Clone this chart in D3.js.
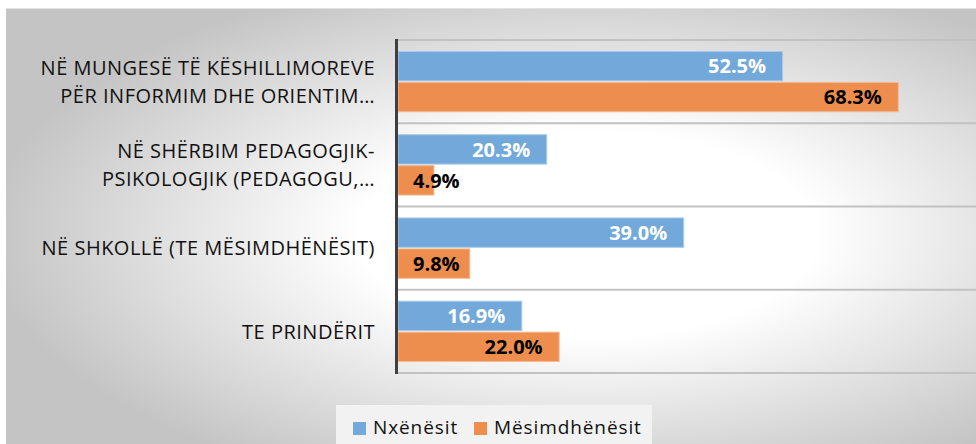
<!DOCTYPE html>
<html><head><meta charset="utf-8">
<script src="https://cdn.jsdelivr.net/npm/d3@7"></script>
<style>html,body{margin:0;padding:0;background:#fff;}svg{display:block;}</style>
</head><body>
<svg id="chart" width="976" height="444"></svg>
<script>
const categories = [
  ["NË MUNGESË TË KËSHILLIMOREVE", "PËR INFORMIM DHE ORIENTIM…"],
  ["NË SHËRBIM PEDAGOGJIK-", "PSIKOLOGJIK (PEDAGOGU,…"],
  ["NË SHKOLLË (TE MËSIMDHËNËSIT)"],
  ["TE PRINDËRIT"]
];
const series = ["Nxënësit", "Mësimdhënësit"];
const nxenesit = [52.5, 20.3, 39.0, 16.9];
const mesimdhenesit = [68.3, 4.9, 9.8, 22.0];
const xDomain = [0, 80];

const colors = {"Nxënësit": "#72a8da", "Mësimdhënësit": "#ee8e4e"};
const borders = {"Nxënësit": "#a9cbea", "Mësimdhënësit": "#f5bb94"};
const labelColors = {"Nxënësit": "#ffffff", "Mësimdhënësit": "#000000"};
const values = {"Nxënësit": nxenesit, "Mësimdhënësit": mesimdhenesit};
const FONT = "'Open Sans', 'DejaVu Sans', sans-serif";

const svg = d3.select("#chart");
const defs = svg.append("defs");
const grad = defs.append("radialGradient").attr("id", "bg")
  .attr("cx", 0.6).attr("cy", 0.52).attr("r", 0.62).attr("fx", 0.6).attr("fy", 0.52);
grad.append("stop").attr("offset", 0).attr("stop-color", "#ffffff");
grad.append("stop").attr("offset", 0.38).attr("stop-color", "#ffffff");
grad.append("stop").attr("offset", 1).attr("stop-color", "#c4c4c4");

svg.append("rect").attr("x", 6).attr("y", 8).attr("width", 970).attr("height", 436).attr("fill", "url(#bg)");
svg.append("line").attr("x1", 6).attr("x2", 976).attr("y1", 8.5).attr("y2", 8.5).attr("stroke", "#e2e2e2").attr("stroke-width", 1);

const x = d3.scaleLinear().domain(xDomain).range([398, 984]);
const idx = d3.range(categories.length);
const y = d3.scaleBand().domain(idx).range([40, 373]).paddingInner(0).paddingOuter(0);
const ys = d3.scaleBand().domain(series).range([0, y.bandwidth()]).paddingOuter(0.37).paddingInner(0.05);

// separators
const gridYs = idx.map(i => y(i)).concat([y(idx[idx.length-1]) + y.bandwidth()]);
svg.append("g").selectAll("line").data(gridYs).join("line")
  .attr("x1", x(0)).attr("x2", 976).attr("y1", d => d).attr("y2", d => d)
  .attr("stroke", "#c2c2c2").attr("stroke-width", 2);

// bars
series.forEach(s => {
  const g = svg.append("g");
  g.selectAll("rect").data(idx).join("rect")
    .attr("x", x(0))
    .attr("y", i => y(i) + ys(s))
    .attr("width", i => x(values[s][i]) - x(0))
    .attr("height", ys.bandwidth())
    .attr("fill", colors[s]).attr("stroke", borders[s]).attr("stroke-width", 1);
  g.selectAll("text").data(idx).join("text")
    .attr("font-family", FONT).attr("font-size", 20).attr("font-weight", 700)
    .attr("fill", labelColors[s])
    .attr("y", i => y(i) + ys(s) + ys.bandwidth()/2)
    .attr("dy", "0.36em")
    .text(i => values[s][i].toFixed(1) + "%")
    .each(function(i) {
      const w = this.getComputedTextLength();
      let end = x(values[s][i]) - 16.5;
      if (end - w < x(0) + 15) end = x(0) + 15 + w;
      d3.select(this).attr("x", end).attr("text-anchor", "end");
    });
});

// axis
svg.append("line").attr("x1", x(0) - 1.5).attr("x2", x(0) - 1.5).attr("y1", 39).attr("y2", 374)
  .attr("stroke", "#3f3f3f").attr("stroke-width", 3);

// category labels
const lh = 28.5;
const cl = svg.append("g").attr("font-family", FONT).attr("font-size", 20).attr("letter-spacing", 0.5)
  .attr("fill", "#111").attr("text-anchor", "end");
idx.forEach(i => {
  const lines = categories[i];
  const cy = y(i) + y.bandwidth()/2;
  const t = cl.append("text");
  lines.forEach((ln, k) => {
    t.append("tspan").attr("x", 375)
      .attr("y", cy + (k - (lines.length - 1)/2) * lh)
      .attr("dy", "0.36em").text(ln);
  });
});

// legend
const lg = svg.append("g");
lg.append("rect").attr("x", 336).attr("y", 405).attr("width", 316).attr("height", 39).attr("fill", "#f2f2f2");
const legX = [353, 474];
series.forEach((s, k) => {
  lg.append("rect").attr("x", legX[k]).attr("y", 422).attr("width", 13).attr("height", 13).attr("fill", colors[s]);
  lg.append("text").attr("x", legX[k] + 20).attr("y", 434).attr("font-family", FONT).attr("font-size", 19)
    .attr("letter-spacing", 0.9).attr("fill", "#111").text(s);
});
</script>
</body></html>
